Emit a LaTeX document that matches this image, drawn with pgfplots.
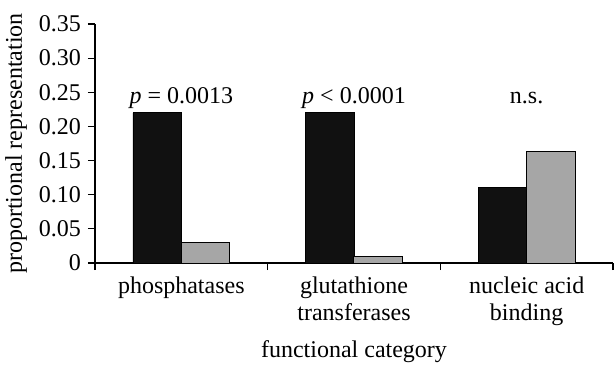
\documentclass[border=0pt]{standalone}
\usepackage{pgfplots}
\pgfplotsset{compat=1.18}
\usepackage{fontspec}
\setmainfont{Liberation Serif}
\definecolor{barblack}{HTML}{111111}
\definecolor{bargray}{HTML}{A6A6A6}
\begin{document}
\fontsize{24}{28}\selectfont
\begin{tikzpicture}
\useasboundingbox (-95pt,-102pt) rectangle (519pt,263pt);
\begin{axis}[
  scale only axis,
  width=518pt, height=239pt,
  xmin=-0.5, xmax=2.5,
  ymin=0, ymax=0.35,
  axis lines=left,
  axis line style={line width=1.2pt, -},
  every tick/.style={line width=1.2pt, black},
  tick align=outside,
  major tick length=7pt,
  ytick={0,0.05,0.10,0.15,0.20,0.25,0.30,0.35},
  yticklabels={0,0.05,0.10,0.15,0.20,0.25,0.30,0.35},
  y tick label style={font=\fontsize{24}{28}\selectfont, xshift=1pt},
  xtick={-0.5,0.5,1.5,2.5},
  xticklabels={},
  extra x ticks={0,1,2},
  extra x tick labels={phosphatases,{glutathione\\transferases},{nucleic acid\\binding}},
  extra x tick style={major tick length=0pt, x tick label style={font=\fontsize{24}{27}\selectfont, align=center, anchor=north, yshift=-6pt}},
  xlabel={functional category},
  xlabel style={at={(axis description cs:0.5,0)}, anchor=base, yshift=-94pt, font=\fontsize{24}{28}\selectfont},
  ylabel={proportional representation},
  ylabel style={at={(axis description cs:-0.141,0.5)}, anchor=base, font=\fontsize{24}{28}\selectfont},
  bar width=0.28,
  clip=false,
]
\addplot[ybar, bar shift=-0.14, fill=barblack, draw=black, line width=0.8pt] coordinates {(0,0.22) (1,0.22) (2,0.11)};
\addplot[ybar, bar shift=0.14, fill=bargray, draw=black, line width=1pt] coordinates {(0,0.03) (1,0.01) (2,0.164)};
\node[anchor=base, font=\fontsize{24}{28}\selectfont] at (axis cs:0,0.233) {\textit{p} = 0.0013};
\node[anchor=base, font=\fontsize{24}{28}\selectfont] at (axis cs:1,0.233) {\textit{p} < 0.0001};
\node[anchor=base, font=\fontsize{24}{28}\selectfont] at (axis cs:2,0.233) {n.s.};
\end{axis}
\end{tikzpicture}
\end{document}
